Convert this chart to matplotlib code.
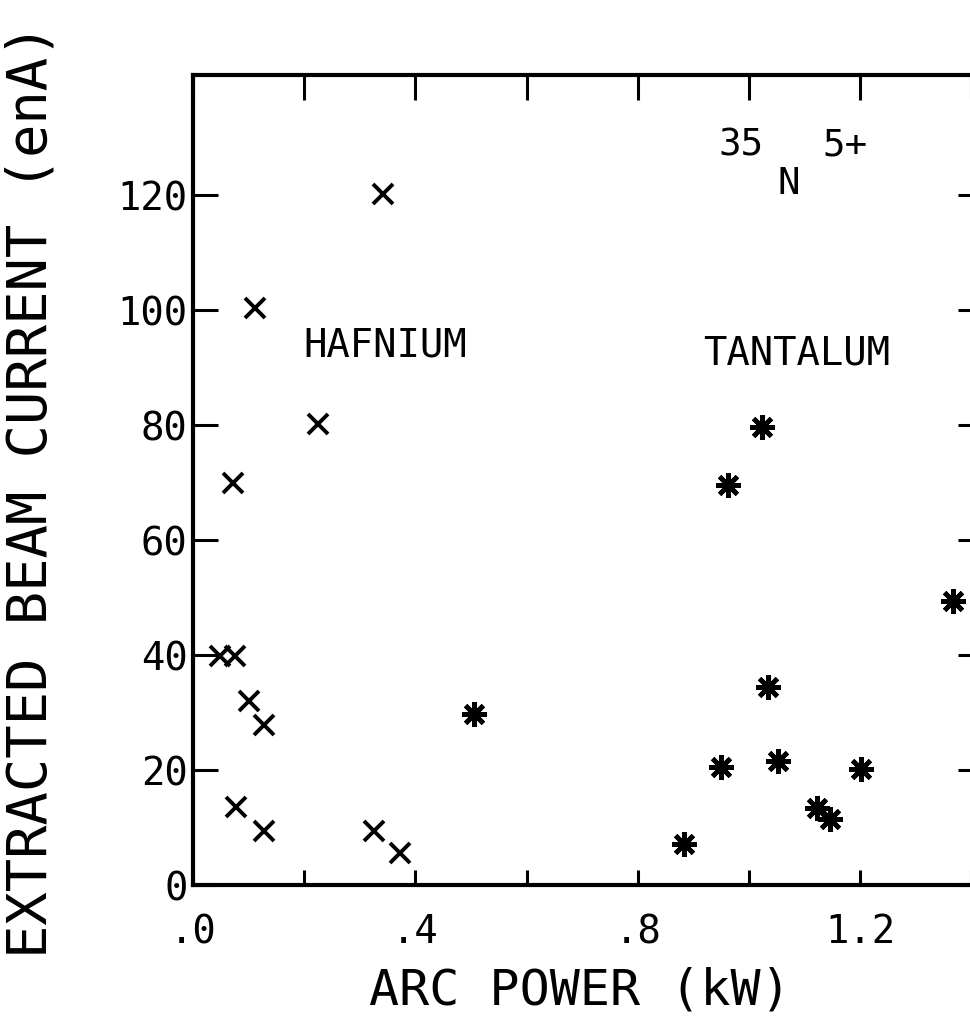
import matplotlib
matplotlib.use("Agg")
import matplotlib.pyplot as plt

# arc power (kW) vs extracted 35N 5+ current (enA)
hf_power = [0.342, 0.112, 0.225, 0.072, 0.049, 0.076, 0.101, 0.127, 0.077, 0.127, 0.326, 0.373]
hf_current = [120.2, 100.4, 80.2, 70.0, 39.8, 39.8, 32.0, 27.8, 13.5, 9.4, 9.4, 5.5]

ta_power = [0.505, 1.024, 0.962, 1.366, 1.034, 0.950, 1.052, 1.202, 1.123, 1.145, 0.883]
ta_current = [29.8, 79.7, 69.5, 49.4, 34.4, 20.5, 21.5, 20.2, 13.4, 11.5, 7.1]

x_ticks = [0.0, 0.2, 0.4, 0.6, 0.8, 1.0, 1.2, 1.4]
x_labels = ['.0', '', '.4', '', '.8', '', '1.2', '']
y_ticks = [0, 20, 40, 60, 80, 100, 120]
y_labels = ['0', '20', '40', '60', '80', '100', '120']

mono = 'DejaVu Sans Mono'
plt.rcParams['font.family'] = mono

fig = plt.figure(figsize=(9.705, 10.235), dpi=100)
ax = fig.add_axes([0.199, 0.1349, 0.8134, 0.7918])

ax.plot(hf_power, hf_current, linestyle='none', marker='x', color='black',
        markersize=15, markeredgewidth=2.8)
ax.plot(ta_power, ta_current, linestyle='none', marker=(8, 2, 0), color='black',
        markersize=18, markeredgewidth=3.4)

ax.set_xlim(0, 1.42)
ax.set_ylim(0, 141)

for s in ax.spines.values():
    s.set_linewidth(3)

ax.set_xticks(x_ticks)
ax.set_xticklabels(x_labels)
ax.set_yticks(y_ticks)
ax.set_yticklabels(y_labels)
ax.tick_params(axis='both', which='major', direction='in', width=2.2, labelsize=28,
               left=True, right=True, top=True, bottom=True)
ax.tick_params(axis='x', length=11, pad=20)
ax.tick_params(axis='y', length=18, pad=4)

# top ticks run deeper than the bottom ones
for t in ax.xaxis.get_major_ticks():
    t.tick2line.set_markersize(18)

ax.text(0.346, 93.9, 'HAFNIUM', fontsize=28, ha='center', va='center')
ax.text(1.085, 92.6, 'TANTALUM', fontsize=28, ha='center', va='center')
ax.text(0.986, 128.7, '35', fontsize=27, ha='center', va='center')
ax.text(1.071, 122.1, 'N', fontsize=27, ha='center', va='center')
ax.text(1.172, 128.7, '5+', fontsize=27, ha='center', va='center')

fig.text(0.032, 0.521, 'EXTRACTED BEAM CURRENT (enA)', rotation=90, fontsize=40,
         ha='center', va='center')
fig.text(0.598, 0.032, 'ARC POWER (kW)', fontsize=36, ha='center', va='center')

fig.savefig('out.png', dpi=100)
